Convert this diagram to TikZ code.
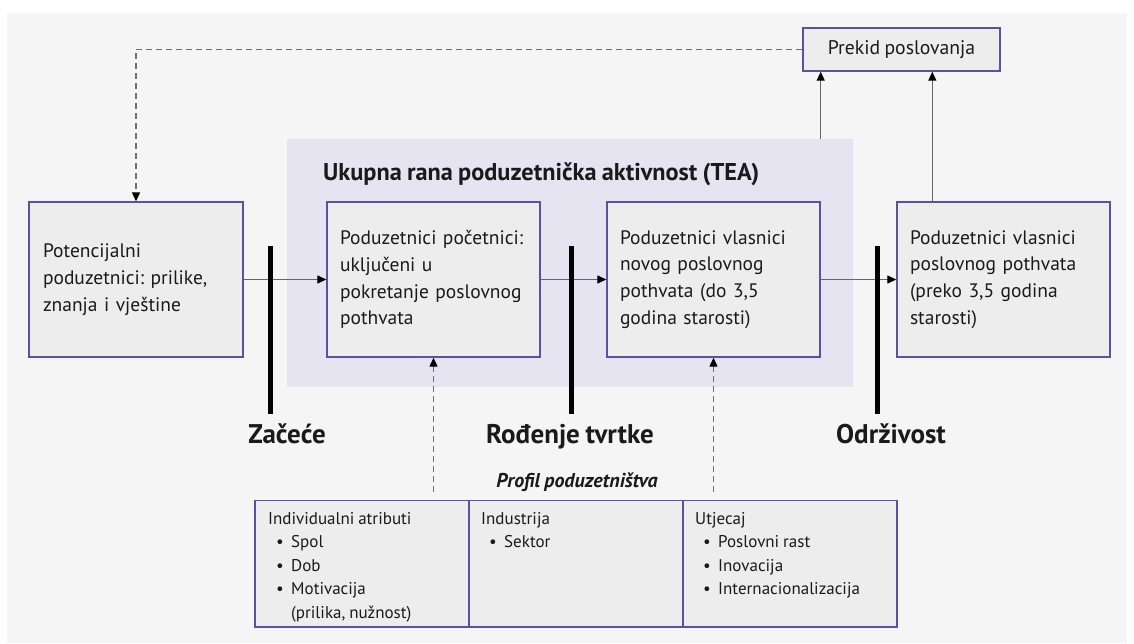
\documentclass[tikz,border=0pt]{standalone}
\usepackage{fontspec}
\setmainfont{PT Sans}[WordSpace=0.85]
\usetikzlibrary{arrows.meta}
\definecolor{bgc}{HTML}{F5F5F5}
\definecolor{teac}{HTML}{E6E4F0}
\definecolor{boxfill}{HTML}{EDEDED}
\definecolor{boxline}{HTML}{5B4FA8}
\definecolor{connc}{HTML}{666666}
\definecolor{dashc}{HTML}{707070}
\definecolor{txt}{HTML}{1A1A1A}
\begin{document}
\frenchspacing
\begin{tikzpicture}[x=1pt,y=-1pt,
  stage/.style={draw=boxline, fill=boxfill, line width=1.4pt, rectangle,
    inner ysep=0pt, align=left, text=txt,
    font=\fontsize{19.5}{26.7}\selectfont},
  cell/.style={draw=boxline, fill=boxfill, line width=1.4pt, rectangle,
    inner sep=0pt, minimum width=214pt, minimum height=126.5pt},
  celltext/.style={anchor=north west, align=left, inner sep=0pt, text=txt,
    font=\fontsize{17}{23.5}\selectfont},
  conn/.style={draw=connc, line width=1.3pt, -{Triangle[length=9pt,width=8pt,color=black]}},
  dashconn/.style={draw=dashc, line width=1.3pt, dash pattern=on 6pt off 4pt,
    -{Triangle[length=9pt,width=8pt,color=black]}},
  milestone/.style={draw=black, line width=5pt},
  mslabel/.style={anchor=base, inner sep=0pt, text=txt,
    font=\fontsize{27}{30}\selectfont\bfseries},
]
\newcommand{\bul}[1]{\makebox[23pt][l]{\hspace{8pt}\textbullet}#1}
\useasboundingbox (0,0) rectangle (1134,643);
\fill[white] (0,0) rectangle (1134,643);
\fill[bgc] (7,13) rectangle (1127,643);

% TEA region
\node[fill=teac, minimum width=566pt, minimum height=248pt, inner sep=0pt] (tea) at (570,263) {};
\node[anchor=base west, inner sep=0pt, text=txt, font=\fontsize{24.3}{28}\selectfont\bfseries] (teatitle) at (323,180) {Ukupna rana poduzetnička aktivnost (TEA)};

% stage boxes
\node[stage, minimum width=214pt, minimum height=155pt, inner xsep=14pt, text width=186pt] (b1) at (136,279.5)
  {Potencijalni\\poduzetnici: prilike,\\znanja i vještine};
\node[stage, minimum width=213pt, minimum height=155pt, inner xsep=13pt, text width=187pt] (b2) at (433.5,279.5)
  {Poduzetnici početnici:\\uključeni u\\pokretanje poslovnog\\pothvata};
\node[stage, minimum width=213pt, minimum height=155pt, inner xsep=13pt, text width=187pt] (b3) at (713.5,279.5)
  {Poduzetnici vlasnici\\novog poslovnog\\pothvata (do 3,5\\godina starosti)};
\node[stage, minimum width=213pt, minimum height=155pt, inner xsep=13pt, text width=187pt] (b4) at (1003.5,279.5)
  {Poduzetnici vlasnici\\poslovnog pothvata\\(preko 3,5 godina\\starosti)};
\node[stage, minimum width=197pt, minimum height=43pt, inner xsep=0pt, align=center,
  font=\fontsize{19.7}{24}\selectfont] (prekid) at (901.5,49.5) {Prekid poslovanja};

% connectors between stages
\draw[conn] (b1.east) -- (b2.west);
\draw[conn] (b2.east) -- (b3.west);
\draw[conn] (b3.east) -- (b4.west);
\draw[conn] (b3.north east |- tea.north) -- (b3.north east |- prekid.south);
\coordinate (u4) at ([xshift=36pt]b4.north west);
\draw[conn] (u4) -- (u4 |- prekid.south);
\draw[dashconn] (prekid.west) -| (b1.north);

% milestones
\draw[milestone] (270.5,246) -- (270.5,414);
\draw[milestone] (571,246) -- (571,414);
\draw[milestone] (877,246) -- (877,414);
\node[mslabel] (m1) at (287,443) {Začeće};
\node[mslabel] (m2) at (570,443) {Rođenje tvrtke};
\node[mslabel] (m3) at (891,443) {Održivost};

% profile table
\node[anchor=base, inner sep=0pt, text=txt, font=\fontsize{20}{22}\selectfont\bfseries\itshape] (prof) at (577,487) {Profil poduzetništva};
\node[cell] (c1) at (362,563.75) {};
\node[cell] (c2) at (576,563.75) {};
\node[cell] (c3) at (790,563.75) {};
\node[celltext] (t1) at (268,512) {Individualni atributi\\\bul{Spol}\\\bul{Dob}\\\bul{Motivacija}\\\hspace*{23pt}(prilika, nužnost)};
\node[celltext] (t2) at (481,512) {Industrija\\\bul{Sektor}};
\node[celltext] (t3) at (695,512) {Utjecaj\\\bul{Poslovni rast}\\\bul{Inovacija}\\\bul{Internacionalizacija}};

% dashed influence arrows
\coordinate (s2) at (b2.south |- 0,492);
\coordinate (s3) at (b3.south |- 0,492);
\draw[dashconn] (s2) -- (b2.south);
\draw[dashconn] (s3) -- (b3.south);
\end{tikzpicture}
\end{document}
